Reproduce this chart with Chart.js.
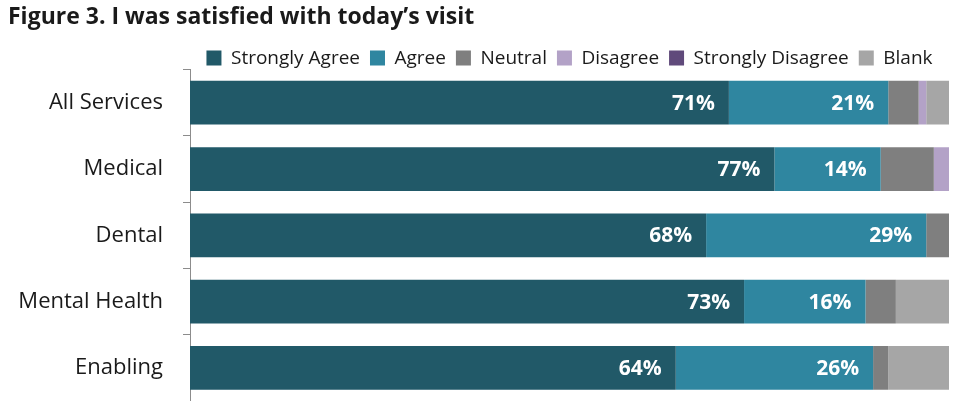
<!DOCTYPE html>
<html>
<head>
<meta charset="utf-8">
<script src="https://cdn.jsdelivr.net/npm/chart.js@4/dist/chart.umd.min.js"></script>
<style>
  html, body { margin: 0; padding: 0; background: #fff; }
  #wrap { width: 963px; height: 401px; }
</style>
</head>
<body>
<div id="wrap"><canvas id="myChart"></canvas></div>
<script>
// categories and series (percent of respondents)
const categories = ["All Services", "Medical", "Dental", "Mental Health", "Enabling"];
const stronglyAgree = [71, 77, 68, 73, 64];
const agree = [21, 14, 29, 16, 26];
const neutral = [4, 7, 3, 4, 2];
const disagree = [1, 2, 0, 0, 0];
const stronglyDisagree = [0, 0, 0, 0, 0];
const blank = [3, 0, 0, 7, 8];

const font = "'Open Sans', 'Liberation Sans', sans-serif";

// white % labels inside the two "agree" segments
const barLabels = {
  id: "barLabels",
  afterDatasetsDraw(chart) {
    const ctx = chart.ctx;
    ctx.save();
    ctx.fillStyle = "#fff";
    ctx.font = "bold 21px " + font;
    ctx.textAlign = "right";
    ctx.textBaseline = "middle";
    [0, 1].forEach(di => {
      const meta = chart.getDatasetMeta(di);
      meta.data.forEach((bar, i) => {
        const v = chart.data.datasets[di].data[i];
        ctx.fillText(v + "%", bar.x - 14, bar.y + 1);
      });
    });
    ctx.restore();
  }
};

new Chart(document.getElementById("myChart"), {
  type: "bar",
  data: {
    labels: categories,
    datasets: [
      { label: "Strongly Agree", data: stronglyAgree, backgroundColor: "#215968" },
      { label: "Agree", data: agree, backgroundColor: "#2f86a0" },
      { label: "Neutral", data: neutral, backgroundColor: "#7f7f7f" },
      { label: "Disagree", data: disagree, backgroundColor: "#b3a2c7" },
      { label: "Strongly Disagree", data: stronglyDisagree, backgroundColor: "#604a7b" },
      { label: "Blank", data: blank, backgroundColor: "#a6a6a6" }
    ]
  },
  options: {
    indexAxis: "y",
    responsive: true,
    maintainAspectRatio: false,
    animation: false,
    categoryPercentage: 0.66,
    barPercentage: 1,
    layout: { autoPadding: false, padding: { left: 8, right: 14, top: 0, bottom: 0 } },
    scales: {
      x: { stacked: true, min: 0, max: 100, display: false },
      y: {
        stacked: true,
        grid: { offset: true, drawOnChartArea: false, tickLength: 7, color: "#8c8c8c" },
        border: { color: "#8c8c8c", width: 1 },
        ticks: { color: "#1a1a1a", font: { family: font, size: 22 }, padding: 20 },
        afterFit(scale) {
          scale.width = 182;
          scale.paddingTop = 0;
          scale.paddingBottom = 0;
        }
      }
    },
    plugins: {
      title: {
        display: true,
        text: "Figure 3. I was satisfied with today\u2019s visit",
        align: "start",
        color: "#1a1a1a",
        font: { family: font, size: 23, weight: "bold" },
        padding: { top: 4, bottom: 7 }
      },
      legend: {
        align: "center",
        fullSize: false,
        maxHeight: 31,
        labels: {
          boxWidth: 15, boxHeight: 15, padding: 10,
          color: "#1a1a1a",
          font: { family: font, size: 19 }
        }
      },
      tooltip: { enabled: false }
    }
  },
  plugins: [barLabels]
});
</script>
</body>
</html>
